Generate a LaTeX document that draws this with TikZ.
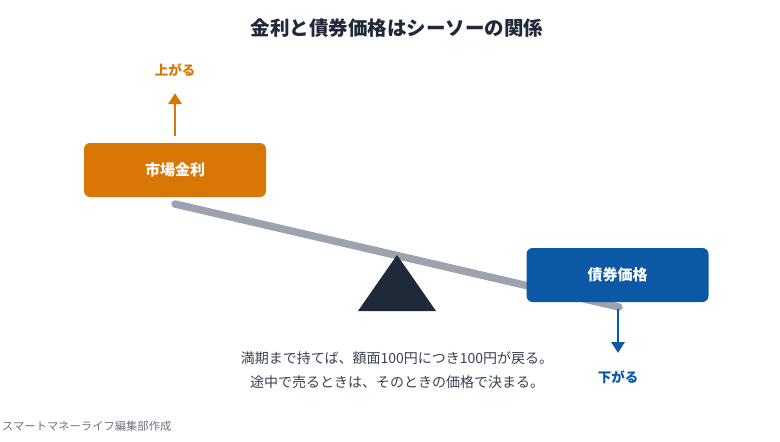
\documentclass[tikz,border=0pt]{standalone}
\usepackage{fontspec}
\usepackage{xcolor}
\usepackage{tikz}
\usetikzlibrary{arrows.meta}
\setmainfont{Noto Sans CJK JP}
\definecolor{rate}{HTML}{D97706}
\definecolor{bond}{HTML}{0B58A5}
\definecolor{ink}{HTML}{1F2937}
\definecolor{beam}{HTML}{9CA3AF}
\definecolor{body}{HTML}{374151}
\definecolor{muted}{HTML}{6B7280}

\begin{document}
\begin{tikzpicture}[x=1pt, y=-1pt,
  box/.style={rectangle, rounded corners=6pt, minimum width=182pt, minimum height=54pt,
    text=white, font=\fontsize{15}{18}\selectfont\bfseries, inner sep=0pt},
  lbl/.style={font=\fontsize{13.5}{16}\selectfont\bfseries},
  arr/.style={-{Triangle[length=11pt, width=13pt]}, line width=2.8pt}]
\useasboundingbox (0,0) rectangle (780,442);
% title
\node[font=\fontsize{19.5}{22}\selectfont\bfseries, text=ink] (title) at (397,28) {金利と債券価格はシーソーの関係};
% seesaw
\coordinate (beamL) at (175,204);
\coordinate (beamR) at (619,307);
\draw[beam, line width=7.5pt, line cap=round] (beamL) -- (beamR);
\fill[ink] (397,255) -- (436,311) -- (358,311) -- cycle;
% boxes
\node[box, fill=rate] (rate) at (175,170) {市場金利};
\node[box, fill=bond] (bond) at (617.5,275) {債券価格};
% arrows
\node[lbl, text=rate] (up) at (175,70) {上がる};
\node[lbl, text=bond] (down) at (618,377) {下がる};
\coordinate (upS) at (175,136);
\coordinate (upE) at (175,93);
\draw[arr, rate] (upS) -- (upE);
\coordinate (downS) at (618,309);
\coordinate (downE) at (618,353);
\draw[arr, bond] (downS) -- (downE);
% note
\node[font=\fontsize{14}{24}\selectfont, text=body, align=center] (note) at (397,370)
  {満期まで持てば、額面100円につき100円が戻る。\\途中で売るときは、そのときの価格で決まる。};
\node[font=\fontsize{11.3}{13}\selectfont, text=muted, anchor=west, inner sep=0pt] (credit) at (2,426) {スマートマネーライフ編集部作成};
\end{tikzpicture}
\end{document}
